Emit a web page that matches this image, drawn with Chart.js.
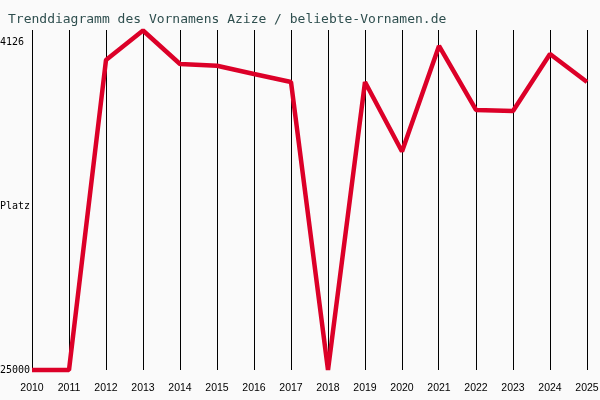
<!DOCTYPE html>
<html>
<head>
<meta charset="utf-8">
<script src="https://cdn.jsdelivr.net/npm/chart.js@4/dist/chart.umd.min.js"></script>
<style>
  html, body { margin: 0; padding: 0; background: #fafafa; }
  canvas { display: block; }
</style>
</head>
<body>
<canvas id="chart" width="600" height="400"></canvas>
<script>
// Platzierung des Vornamens je Jahr (kleiner = beliebter)
var years = [2010, 2011, 2012, 2013, 2014, 2015, 2016, 2017, 2018, 2019, 2020, 2021, 2022, 2023, 2024, 2025];
var ranks = [25000, 25000, 5271, 3394, 5526, 5634, 6162, 6671, 25000, 6671, 11094, 4380, 8453, 8517, 4889, 6671];
var rankTicks = [4126, 14563, 25000];
var rankTickLabels = ['4126', 'Platz', '25000'];
var chartTitle = 'Trenddiagramm des Vornamens Azize / beliebte-Vornamen.de';

var titlePlugin = {
  id : 'plainTitle',
  afterDraw : function(chart) {
    var ctx = chart.ctx;
    ctx.save();
    ctx.font = '13px "DejaVu Sans Mono"';
    ctx.fillStyle = '#2f4f4f';
    ctx.textBaseline = 'alphabetic';
    ctx.textAlign = 'left';
    ctx.fillText(chartTitle, 8, 23);
    ctx.restore();
  }
};

new Chart(document.getElementById('chart'), {
  type : 'line',
  data : {
    datasets : [{
      data : years.map(function(y, i) { return { x : y, y : ranks[i] }; }),
      borderColor : '#dc0028',
      borderWidth : 4.5,
      borderJoinStyle : 'bevel',
      pointRadius : 0,
      tension : 0,
      clip : false
    }]
  },
  options : {
    responsive : false,
    animation : false,
    layout : { padding : { left : 0, right : 13, top : 30, bottom : 0 } },
    plugins : {
      legend : { display : false },
      tooltip : { enabled : false }
    },
    scales : {
      x : {
        type : 'linear',
        min : years[0],
        max : years[years.length - 1],
        afterBuildTicks : function(scale) {
          scale.ticks = years.map(function(y) { return { value : y }; });
        },
        afterFit : function(scale) {
          scale.height = 30;
          scale.paddingLeft = 0;
          scale.paddingRight = 0;
        },
        grid : { color : '#000', lineWidth : 1, drawTicks : false },
        border : { display : false },
        ticks : {
          autoSkip : false,
          maxRotation : 0,
          padding : 12,
          color : '#000',
          font : { family : 'Liberation Sans', size : 10.5 },
          callback : function(value) { return String(value); }
        }
      },
      y : {
        type : 'linear',
        reverse : true,
        min : 3362,
        max : 25000,
        afterBuildTicks : function(scale) {
          scale.ticks = rankTicks.map(function(v) { return { value : v }; });
        },
        afterFit : function(scale) {
          scale.width = 32;
          scale.paddingTop = 0;
          scale.paddingBottom = 0;
        },
        grid : { display : false },
        border : { display : false },
        ticks : {
          autoSkip : false,
          crossAlign : 'far',
          color : '#000',
          font : { family : 'DejaVu Sans Mono', size : 10 },
          callback : function(value) {
            return rankTickLabels[rankTicks.indexOf(value)];
          }
        }
      }
    }
  },
  plugins : [titlePlugin]
});
</script>
</body>
</html>
